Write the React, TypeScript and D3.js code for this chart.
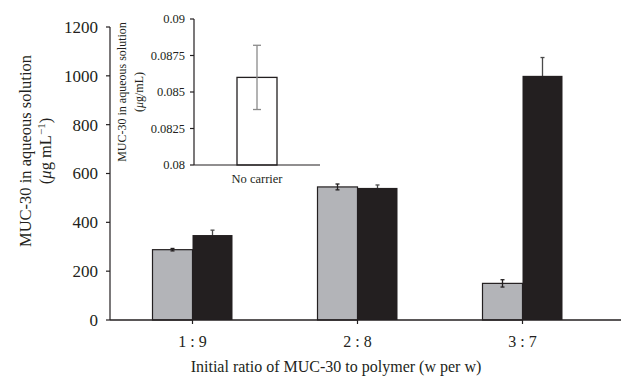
import React from 'react';
import * as d3 from 'd3';

const categories = ['1 : 9', '2 : 8', '3 : 7'];
const grayValues = [288, 545, 150];
const grayErrors = [5, 12, 15];
const blackValues = [348, 541, 1000];
const blackErrors = [20, 12, 75];
const yTicks = [0, 200, 400, 600, 800, 1000, 1200];

const insetCategories = ['No carrier'];
const insetValues = [0.086];
const insetErrors = [0.0022];
const insetTicks = [0.08, 0.0825, 0.085, 0.0875, 0.09];

const W = 623;
const H = 376;
const ink = '#231f20';
const font = '"Liberation Serif", "Times New Roman", serif';

export default function App() {
	const x = d3.scaleBand().domain(categories).range([110, 605]);
	const y = d3.scaleLinear().domain([0, 1200]).range([320, 27]);
	const barW = 40;

	const xi = d3.scaleBand().domain(insetCategories).range([194, 320]);
	const yi = d3.scaleLinear().domain([0.08, 0.09]).range([165, 19]);

	// error bar with caps; drawn under black bars so only the top half shows there
	const errBar = (cx, v, e, color, cap) => (
		<g stroke={color} strokeWidth={1.3}>
			<line x1={cx} x2={cx} y1={y(v + e)} y2={y(v - e)} />
			<line x1={cx - cap} x2={cx + cap} y1={y(v + e)} y2={y(v + e)} />
			<line x1={cx - cap} x2={cx + cap} y1={y(v - e)} y2={y(v - e)} />
		</g>
	);

	return (
		<svg width={W} height={H} style={{ position: 'absolute', left: 0, top: 0, background: '#fff' }} fontFamily={font} fill={ink}>
			{/* main bars */}
			{categories.map((c, i) => {
				const cx = x(c) + x.bandwidth() / 2;
				return (
					<g key={c}>
						{errBar(cx + barW / 2, blackValues[i], blackErrors[i], '#4a4a4a', 2)}
						<rect x={cx - barW} y={y(grayValues[i])} width={barW} height={y(0) - y(grayValues[i])} fill="#b3b4b8" stroke={ink} strokeWidth={1.2} />
						<rect x={cx} y={y(blackValues[i])} width={barW} height={y(0) - y(blackValues[i])} fill={ink} />
						{errBar(cx - barW / 2, grayValues[i], grayErrors[i], ink, 2)}
					</g>
				);
			})}

			{/* main axes */}
			<line x1={110} x2={110} y1={y(1200)} y2={y(0)} stroke={ink} strokeWidth={1.2} />
			<line x1={110} x2={621} y1={y(0)} y2={y(0)} stroke={ink} strokeWidth={1.5} />
			{yTicks.map(t => (
				<g key={t}>
					<line x1={106} x2={110} y1={y(t)} y2={y(t)} stroke={ink} strokeWidth={1.2} />
					<text x={98} y={y(t)} dy="0.35em" textAnchor="end" fontSize={17}>{t}</text>
				</g>
			))}
			{categories.map(c => {
				const cx = x(c) + x.bandwidth() / 2;
				return (
					<g key={c}>
						<line x1={cx} x2={cx} y1={y(0)} y2={y(0) + 4} stroke={ink} strokeWidth={1.2} />
						<text x={cx} y={347} textAnchor="middle" fontSize={16}>{c}</text>
					</g>
				);
			})}
			<text x={336} y={372} textAnchor="middle" fontSize={16}>Initial ratio of MUC-30 to polymer (w per w)</text>
			<text transform="translate(31,151) rotate(-90)" textAnchor="middle" fontSize={16.5}>MUC-30 in aqueous solution</text>
			<text transform="translate(51,151) rotate(-90)" textAnchor="middle" fontSize={16.5}>
				(<tspan fontStyle="italic">μ</tspan>g mL<tspan dy="-6" fontSize={11}>−1</tspan><tspan dy="6">)</tspan>
			</text>

			{/* inset */}
			{insetCategories.map((c, i) => {
				const cx = xi(c) + xi.bandwidth() / 2;
				return (
					<g key={c}>
						<rect x={cx - barW / 2} y={yi(insetValues[i])} width={barW} height={yi(0.08) - yi(insetValues[i])} fill="#fff" stroke={ink} strokeWidth={1.3} />
						<g stroke="#8a8a8a" strokeWidth={1.3}>
							<line x1={cx} x2={cx} y1={yi(insetValues[i] + insetErrors[i])} y2={yi(insetValues[i] - insetErrors[i])} />
							<line x1={cx - 4} x2={cx + 4} y1={yi(insetValues[i] + insetErrors[i])} y2={yi(insetValues[i] + insetErrors[i])} />
							<line x1={cx - 4} x2={cx + 4} y1={yi(insetValues[i] - insetErrors[i])} y2={yi(insetValues[i] - insetErrors[i])} />
						</g>
						<text x={cx} y={183} textAnchor="middle" fontSize={12.5}>{c}</text>
					</g>
				);
			})}
			<line x1={194} x2={194} y1={yi(0.09)} y2={yi(0.08)} stroke={ink} strokeWidth={1.2} />
			<line x1={194} x2={320} y1={yi(0.08)} y2={yi(0.08)} stroke={ink} strokeWidth={1.2} />
			{insetTicks.map(t => (
				<g key={t}>
					<line x1={190} x2={194} y1={yi(t)} y2={yi(t)} stroke={ink} strokeWidth={1.2} />
					<text x={185} y={yi(t)} dy="0.35em" textAnchor="end" fontSize={12.5}>{t}</text>
				</g>
			))}
			<text transform="translate(126,92) rotate(-90)" textAnchor="middle" fontSize={12}>MUC-30 in aqueous solution</text>
			<text transform="translate(143,92) rotate(-90)" textAnchor="middle" fontSize={12}>
				(<tspan fontStyle="italic">μ</tspan>g/mL)
			</text>
		</svg>
	);
}
